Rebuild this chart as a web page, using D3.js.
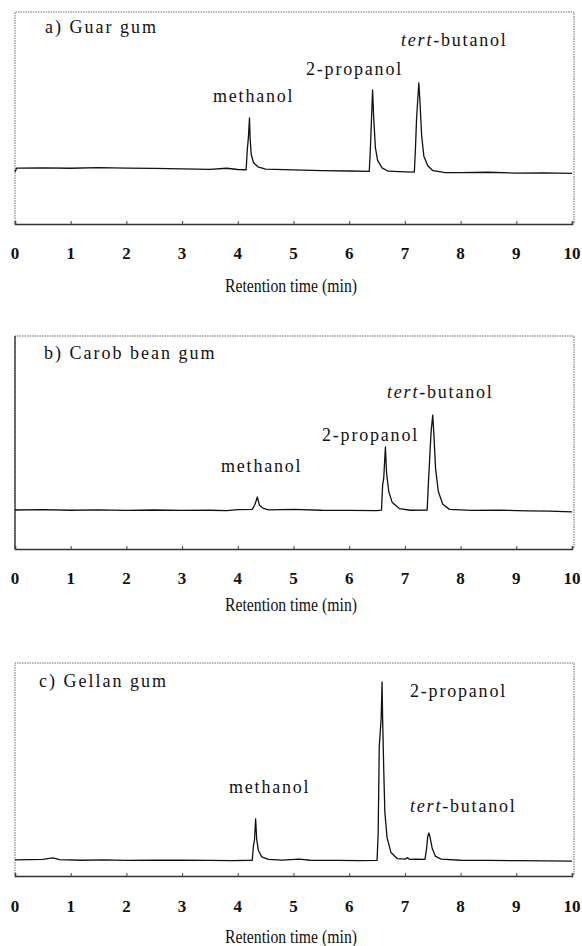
<!DOCTYPE html>
<html><head><meta charset="utf-8">
<script src="https://cdn.jsdelivr.net/npm/d3@7"></script>
<style>
body{margin:0;background:#fff}
svg{display:block}
text{font-family:"Liberation Serif","Times New Roman",serif;fill:#111}
</style>
</head><body>
<svg id="chart" width="582" height="946"></svg>
<script>
// ---- data ----
const xTicks = [0,1,2,3,4,5,6,7,8,9,10];
const xAxisTitle = "Retention time (min)";
const panelTitles = ["a) Guar gum", "b) Carob bean gum", "c) Gellan gum"];
const compounds = ["methanol", "2-propanol", "tert-butanol"];

// [time (min), relative detector signal (0-100)]
const traceGuar = [
  [0,24.5],[0.03,26.4],[0.5,26.5],[1,26.3],[1.5,26.6],[2,26.4],[2.5,26.2],[3,26.0],[3.5,25.8],
  [3.8,26.3],[4.0,25.7],[4.15,25.6],[4.17,35],[4.19,40.6],[4.21,50.0],[4.22,41],[4.24,33],
  [4.28,29],[4.36,27],[4.5,25.9],[5,25.5],[5.5,25.2],[6.0,25.0],[6.36,24.8],[6.38,35],
  [6.395,45.8],[6.42,63.2],[6.44,50],[6.47,36],[6.51,30],[6.59,26.5],[6.7,24.9],[7.0,24.6],
  [7.17,24.5],[7.19,36],[7.21,50],[7.25,66.5],[7.27,58],[7.3,42],[7.34,32],[7.41,27.5],
  [7.5,25.2],[7.7,24.3],[8,24.2],[8.5,24.4],[9,24.0],[9.5,24.1],[10,23.9]
];
const traceCarob = [
  [0,18.3],[0.5,18.5],[1,18.2],[1.5,18.4],[2,18.1],[2.5,18.3],[3,18.1],[3.5,18.2],[3.8,18.0],
  [4.0,18.5],[4.26,18.6],[4.31,21],[4.35,24.4],[4.39,20.5],[4.45,19.2],[4.55,18.4],[5,18.6],
  [5.5,18.2],[6,18.1],[6.5,18.0],[6.58,18.3],[6.6,30],[6.62,33.3],[6.65,47.9],[6.67,36],
  [6.71,27],[6.77,22],[6.9,19],[7.1,18.2],[7.4,18.3],[7.42,30],[7.45,45],[7.47,55],[7.5,62.9],
  [7.52,54],[7.55,38],[7.6,27],[7.68,21],[7.8,18.6],[8.2,18.1],[8.7,18.2],[9.2,17.9],[9.6,17.8],[10,17.4]
];
const traceGellan = [
  [0,7.6],[0.5,7.8],[0.68,8.5],[0.8,7.7],[1.2,7.4],[1.6,7.6],[2,7.3],[2.5,7.5],[3,7.4],[3.5,7.3],
  [3.9,7.2],[4.26,7.4],[4.28,14],[4.3,16.9],[4.32,26.8],[4.34,17],[4.37,12],[4.43,9],[4.55,7.8],
  [4.8,7.5],[5.1,7.9],[5.3,7.4],[5.8,7.3],[6.2,7.2],[6.5,7.3],[6.52,20],[6.54,61],[6.575,74.5],
  [6.59,91.1],[6.6,74],[6.62,50],[6.64,30],[6.68,18],[6.75,11],[6.86,8.2],[7.0,7.9],[7.05,8.6],
  [7.08,7.8],[7.2,7.9],[7.36,7.8],[7.39,13],[7.41,18.5],[7.43,20.2],[7.45,18.5],[7.49,13],
  [7.55,9.2],[7.65,7.9],[8,7.4],[8.5,7.3],[9,7.2],[9.5,7.1],[10,7.0]
];
const traces = [traceGuar, traceCarob, traceGellan];

// ---- layout ----
const panels = [
  {top:12, axis:224, titleY:33, tickY:259, xLabY:292, leftSolid:false,
   labels:[[213,102],[306,75],[401,46]]},
  {top:336, axis:549, titleY:359, tickY:584, xLabY:611, leftSolid:true,
   labels:[[221,472],[322,441],[387,398]]},
  {top:663, axis:876, titleY:687, tickY:912, xLabY:943, leftSolid:false,
   labels:[[229,793],[410,697],[410,812]]}
];
const titleX = [45, 44, 39];

const svg = d3.select("#chart");
const x = d3.scaleLinear().domain([0,10]).range([15,572]);

panels.forEach((p, i) => {
  const g = svg.append("g");
  const y = d3.scaleLinear().domain([0,100]).range([p.axis, p.top]);

  // frame (scan-like dotted)
  const x0 = x(0), x1 = x(10) + 2;
  g.append("path").attr("d", `M${x0},${p.axis}V${p.top}H${x1}V${p.axis}`)
    .attr("fill","none").attr("stroke","#666").attr("stroke-width",1)
    .attr("stroke-dasharray","1.5 1");
  if (p.leftSolid) {
    g.append("line").attr("x1",x0).attr("x2",x0).attr("y1",p.top).attr("y2",p.axis)
      .attr("stroke","#222").attr("stroke-width",1.2);
  }

  // bottom axis with inward ticks
  const axis = d3.axisTop(x).tickValues(xTicks).tickSize(3).tickFormat("");
  const ag = g.append("g").attr("transform", `translate(0,${p.axis})`).call(axis);
  ag.select(".domain").attr("stroke","#333").attr("stroke-width",1.6);
  ag.selectAll(".tick line").attr("stroke","#444").attr("stroke-width",1);

  // tick labels
  g.selectAll("text.tl").data(xTicks).join("text").attr("class","tl")
    .attr("x", d => x(d)).attr("y", p.tickY).attr("text-anchor","middle")
    .attr("font-size",17).attr("font-weight","bold").text(d => d);

  // axis title
  g.append("text").attr("x", 291).attr("y", p.xLabY).attr("text-anchor","middle")
    .attr("font-size",18).attr("textLength",132).attr("lengthAdjust","spacingAndGlyphs")
    .text(xAxisTitle);

  // panel title
  g.append("text").attr("x", titleX[i]).attr("y", p.titleY)
    .attr("font-size",18).attr("letter-spacing",2).text(panelTitles[i]);

  // trace
  g.append("path").datum(traces[i])
    .attr("d", d3.line().x(d => x(d[0])).y(d => y(d[1])))
    .attr("fill","none").attr("stroke","#111").attr("stroke-width",1.3)
    .attr("stroke-linejoin","round");

  // compound labels
  compounds.forEach((c, k) => {
    const [lx, ly] = p.labels[k];
    const t = g.append("text").attr("x", lx).attr("y", ly)
      .attr("font-size",18).attr("letter-spacing",1.8);
    if (c.startsWith("tert")) {
      t.append("tspan").attr("font-style","italic").text("tert");
      t.append("tspan").text(c.slice(4));
    } else {
      t.text(c);
    }
  });
});
</script>
</body></html>
